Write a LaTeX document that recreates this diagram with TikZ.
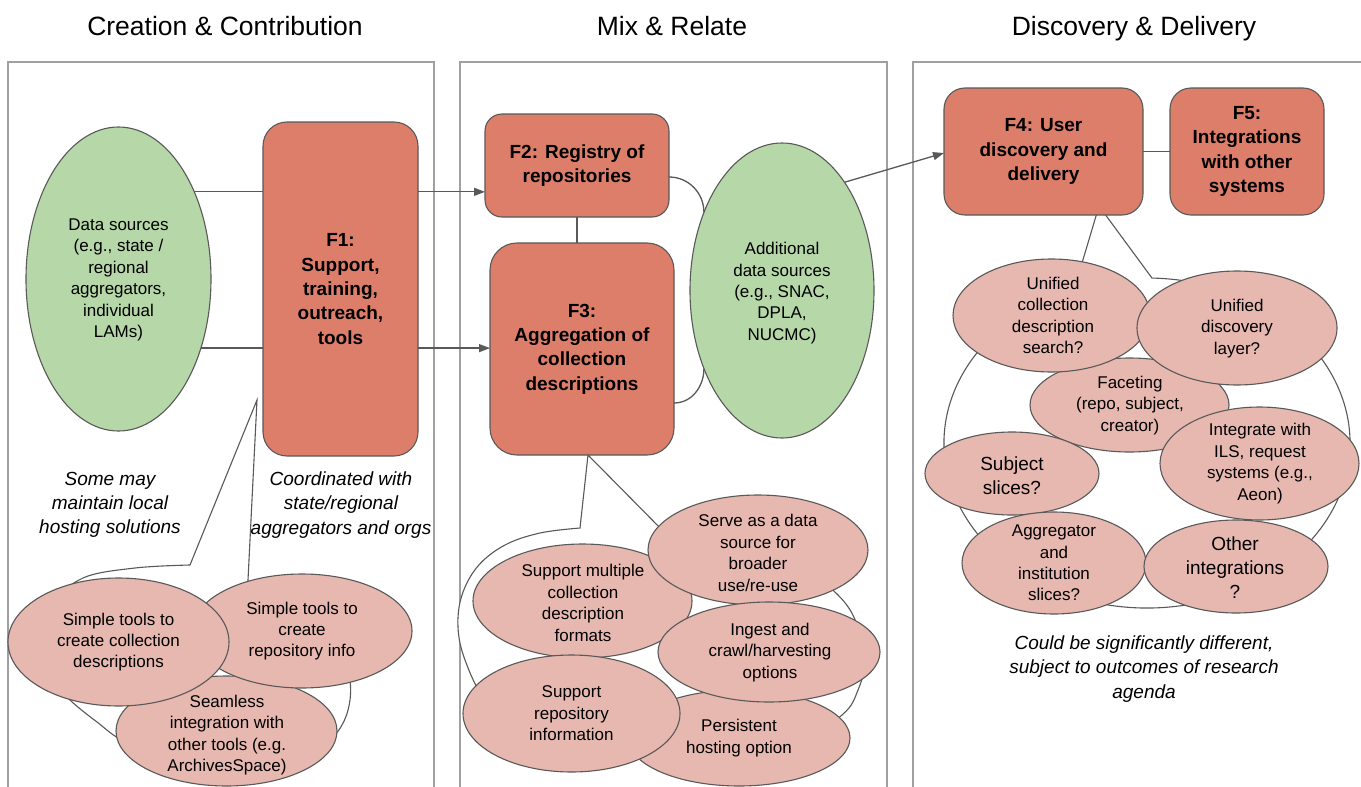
\documentclass[tikz,border=0pt]{standalone}
\usepackage{fontspec}
\setmainfont{Liberation Sans}
\usetikzlibrary{shapes.geometric, arrows.meta, calc}
\definecolor{boxred}{HTML}{DD7E6B}
\definecolor{lgreen}{HTML}{B6D7A8}
\definecolor{lpink}{HTML}{E6B8AF}
\definecolor{edgec}{HTML}{595959}
\definecolor{panelgray}{HTML}{A0A0A0}
\begin{document}
\begin{tikzpicture}[x=1pt, y=-1pt,
  panel/.style={draw=panelgray, line width=1.5pt},
  title/.style={font=\fontsize{26.5}{32}\selectfont, anchor=base, inner sep=0pt},
  fbox/.style={draw=edgec, fill=boxred, line width=1.1pt, align=center, font=\fontsize{19}{24.3}\selectfont\bfseries, inner sep=0pt, outer sep=0pt},
  gell/.style={ellipse, draw=edgec, fill=lgreen, line width=1.1pt, inner sep=0pt, outer sep=0pt},
  pell/.style={ellipse, draw=edgec, fill=lpink, line width=1.1pt, inner sep=0pt, outer sep=0pt},
  body/.style={align=center, font=\fontsize{17}{21.4}\selectfont, inner sep=0pt},
  bigbody/.style={align=center, font=\fontsize{19}{23.8}\selectfont, inner sep=0pt},
  note/.style={align=center, font=\fontsize{19}{24.3}\selectfont\itshape, inner sep=0pt},
  bubble/.style={draw=edgec, fill=white, line width=1.1pt, line join=miter},
  conn/.style={draw=edgec, line width=1.3pt},
  arr/.style={conn, -{Triangle[length=11pt,width=8pt]}},
]
\useasboundingbox (0,0) rectangle (1361,787);
\fill[white] (0,0) rectangle (1361,787);

% titles
\node[title] (ttl1) at (225,35) {Creation \& Contribution};
\node[title] (ttl2) at (672,35) {Mix \& Relate};
\node[title] (ttl3) at (1134,35) {Discovery \& Delivery};

% panels
\draw[panel] (8,800) -- (8,62) -- (434,62) -- (434,800);
\draw[panel] (460,800) -- (460,62) -- (887,62) -- (887,800);
\draw[panel] (913,800) -- (913,62) -- (1375,62) -- (1375,800);

% callout bubbles
\draw[bubble] (257,400) -- plot[smooth, tension=0.6] coordinates {(190,565) (135,568) (83,578) (52,605) (40,640) (48,675) (70,700) (97,722) (125,742) (175,762) (235,772) (295,764) (335,735) (350,700) (345,660) (320,625) (285,607) (247,600)} -- cycle;
\draw[bubble] (588,455) -- plot[smooth, tension=0.6] coordinates {(580,528) (540,533) (505,545) (478,566) (462,595) (458,627) (465,660) (485,700) (520,732) (575,750) (642,759) (720,760) (790,748) (842,715) (858,690) (864,662) (856,622) (837,594) (800,567) (740,548) (672,540)} -- cycle;
\draw[bubble] (1099,206) -- ($(1147,443)+(249:203 and 165)$) arc[start angle=249, end angle=-88.6, x radius=203, y radius=165] -- cycle;

% panel 1 pink ellipses
\node[pell, minimum width=221pt, minimum height=110pt] (seam) at (226.5,731) {};
\node[body] (seamt) at (227,735) {Seamless\\integration with\\other tools (e.g.\\ArchivesSpace)};
\node[pell, minimum width=220pt, minimum height=114pt] (repo) at (302,631) {};
\node[body] (repot) at (repo.center) {Simple tools to\\create\\repository info};
\node[pell, minimum width=221pt, minimum height=128pt] (coll) at (118.5,642) {};
\node[body] (collt) at (coll.center) {Simple tools to\\create collection\\descriptions};

% panel 2 pink ellipses
\node[pell, minimum width=222pt, minimum height=96pt] (pers) at (739,738) {};
\node[body] (perst) at (pers.center) {Persistent\\hosting option};
\node[pell, minimum width=219pt, minimum height=114pt] (supm) at (582.5,601) {};
\node[body] (supmt) at (583,603) {Support multiple\\collection\\description\\formats};
\node[pell, minimum width=220pt, minimum height=110pt] (serve) at (758,550) {};
\node[body] (servet) at (758,553) {Serve as a data\\source for\\broader\\use/re-use};
\node[pell, minimum width=222pt, minimum height=100pt] (ing) at (769,652) {};
\node[body] (ingt) at (770,652.5) {Ingest and\\crawl/harvesting\\options};
\node[pell, minimum width=217pt, minimum height=117pt] (supr) at (571.5,713.5) {};
\node[body] (suprt) at (supr.center) {Support\\repository\\information};

% panel 3 pink ellipses
\node[pell, minimum width=199pt, minimum height=94pt] (fac) at (1129.5,405) {};
\node[body] (fact) at (1130,405.5) {Faceting\\(repo, subject,\\creator)};
\node[pell, minimum width=197pt, minimum height=113pt] (ucs) at (1051.5,315.5) {};
\node[body] (ucst) at (1053,315.5) {Unified\\collection\\description\\search?};
\node[pell, minimum width=200pt, minimum height=114pt] (udl) at (1237,328) {};
\node[body] (udlt) at (1237,328.5) {Unified\\discovery\\layer?};
\node[pell, minimum width=199pt, minimum height=113pt] (ils) at (1259.5,463.5) {};
\node[body] (ilst) at (1260,463.5) {Integrate with\\ILS, request\\systems (e.g.,\\Aeon)};
\node[pell, minimum width=174pt, minimum height=83pt] (subj) at (1012,473.5) {};
\node[bigbody] (subjt) at (1012,475.5) {Subject\\slices?};
\node[pell, minimum width=184pt, minimum height=102pt] (agg) at (1054,563) {};
\node[body] (aggt) at (agg.center) {Aggregator\\and\\institution\\slices?};
\node[pell, minimum width=184pt, minimum height=93pt] (oth) at (1236,566.5) {};
\node[bigbody] (otht) at (1235,567.5) {Other\\integrations\\?};

% main boxes and sources
\node[gell, minimum width=185pt, minimum height=304pt] (ds) at (118.5,279) {};
\node[body] (dst) at (118.5,280) {Data sources\\(e.g., state /\\regional\\aggregators,\\individual\\LAMs)};
\node[fbox, minimum width=155pt, minimum height=334pt, rounded corners=24pt] (f1) at (340.5,289) {F1:\\Support,\\training,\\outreach,\\tools};
\node[fbox, minimum width=184pt, minimum height=103pt, rounded corners=17pt] (f2) at (577,165.5) {F2: Registry of\\repositories};
\node[fbox, minimum width=184pt, minimum height=212pt, rounded corners=27pt] (f3) at (582,349) {F3:\\Aggregation of\\collection\\descriptions};
\node[gell, minimum width=184pt, minimum height=295pt] (ads) at (782,290.5) {};
\node[body] (adst) at (782,293) {Additional\\data sources\\(e.g., SNAC,\\DPLA,\\NUCMC)};
\node[fbox, minimum width=199pt, minimum height=127pt, rounded corners=21pt] (f4) at (1043.5,151.5) {F4: User\\discovery and\\delivery};
\node[fbox, minimum width=154pt, minimum height=127pt, rounded corners=21pt] (f5) at (1247,151.5) {F5:\\Integrations\\with other\\systems};

% connectors
\draw[conn] (ds.49) -- (f1.west |- ds.49);
\draw[conn] (ds.-40.5) -- (f1.west |- ds.-40.5);
\draw[arr] (f1.east |- ds.49) -- (f2.west |- ds.49);
\draw[arr] (f1.east |- ds.-40.5) -- (f3.west |- ds.-40.5);
\draw[conn] (f2.south) -- (f2.south |- f3.north);
\draw[conn] ([yshift=-11.5pt]f2.east) to[out=0, in=90] (ads.135.2);
\draw[conn] ([yshift=-54pt]f3.east) to[out=0, in=-90] (ads.225.2);
\draw[arr] (ads.60.75) -- ([yshift=-1.5pt]f4.west);
\draw[conn] (f4.east) -- (f5.west);

% notes
\node[note] (n1) at (110,505) {Some may\\maintain local\\hosting solutions};
\node[note] (n2) at (341,505) {Coordinated with\\state/regional\\aggregators and orgs};
\node[note] (n3) at (1144,669) {Could be significantly different,\\subject to outcomes of research\\agenda};
\end{tikzpicture}
\end{document}
